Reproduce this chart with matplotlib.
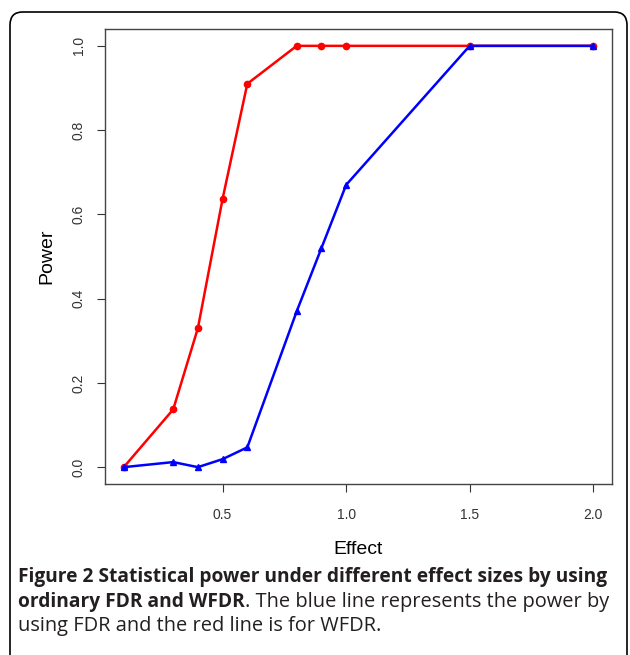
import matplotlib.pyplot as plt
from matplotlib.patches import FancyBboxPatch

# effect sizes and power values
effect = [0.1, 0.3, 0.4, 0.5, 0.6, 0.8, 0.9, 1.0, 1.5, 2.0]
power_wfdr = [0.0, 0.137, 0.33, 0.637, 0.91, 1.0, 1.0, 1.0, 1.0, 1.0]
power_fdr = [0.0, 0.012, 0.0, 0.019, 0.047, 0.37, 0.52, 0.67, 1.0, 1.0]
xticks = [0.5, 1.0, 1.5, 2.0]
yticks = [0.0, 0.2, 0.4, 0.6, 0.8, 1.0]

caption_bold1 = "Figure 2 Statistical power under different effect sizes by using"
caption_bold2 = "ordinary FDR and WFDR"
caption_rest2 = ". The blue line represents the power by"
caption_line3 = "using FDR and the red line is for WFDR."

fig = plt.figure(figsize=(6.3, 6.55), dpi=100)

# rounded frame around the figure (bottom edge falls outside the image)
frame = FancyBboxPatch((10 / 630, -0.05), 617 / 630, (655 - 12) / 655 + 0.05,
                       boxstyle="round,pad=0,rounding_size=0.02",
                       transform=fig.transFigure, fill=False,
                       edgecolor="black", linewidth=1.2, clip_on=False)
fig.patches.append(frame)

ax = fig.add_axes([105 / 630, 171 / 655, 507 / 630, 455 / 655])
ax.plot(effect, power_wfdr, color="#ff0000", linewidth=1.8,
        marker="o", markersize=4.5)
ax.plot(effect, power_fdr, color="#0000ff", linewidth=1.8,
        marker="^", markersize=5)

ax.set_xlim(0.024, 2.076)
ax.set_ylim(-0.04, 1.04)
ax.set_xticks(xticks)
ax.set_xticklabels(["%.1f" % v for v in xticks])
ax.set_yticks(yticks)
ax.set_yticklabels(["%.1f" % v for v in yticks], rotation=90, va="center")
ax.tick_params(direction="out", length=6, width=0.8, colors="#333333",
               labelsize=10)
ax.tick_params(axis="x", pad=11)
ax.tick_params(axis="y", pad=8)
for lab in ax.get_xticklabels() + ax.get_yticklabels():
    lab.set_family("Liberation Sans")
for sp in ax.spines.values():
    sp.set_color("#444444")
    sp.set_linewidth(1.0)

ax.set_xlabel("Effect", family="Liberation Sans", fontsize=14, labelpad=14)
ax.set_ylabel("Power", family="Liberation Sans", fontsize=14, labelpad=12)

# caption, with bold start on the second line
bold_size = 13.8
reg_size = 14.4
cap_color = "#231f20"
fig.text(18 / 630, 1 - 577 / 655, caption_bold1, family="Open Sans",
         weight="bold", fontsize=bold_size, color=cap_color, va="center")
t2 = fig.text(18 / 630, 1 - 602 / 655, caption_bold2, family="Open Sans",
              weight="bold", fontsize=bold_size, color=cap_color, va="center")
fig.canvas.draw()
bb = t2.get_window_extent(renderer=fig.canvas.get_renderer())
fig.text(bb.x1 / fig.bbox.width, 1 - 602 / 655, caption_rest2,
         family="Open Sans", fontsize=reg_size, color=cap_color, va="center")
fig.text(18 / 630, 1 - 626 / 655, caption_line3, family="Open Sans",
         fontsize=reg_size, color=cap_color, va="center")

plt.savefig("out.png", dpi=100)
